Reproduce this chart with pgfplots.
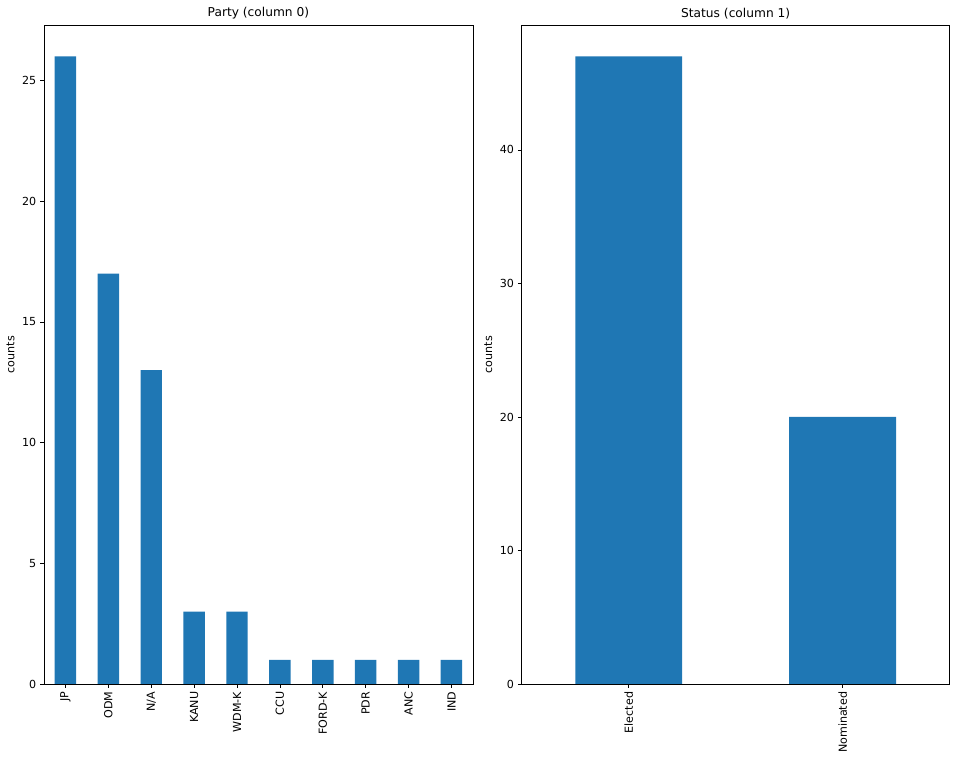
\documentclass[border=0pt]{standalone}
\usepackage{pgfplots}
\pgfplotsset{compat=1.18}
\usepackage{fontspec}
\setmainfont{DejaVu Sans}
\definecolor{mplblue}{HTML}{1F77B4}
\pgfplotsset{
  mystyle/.style={
    scale only axis,
    height=593pt,
    ymin=0,
    axis line style={black, line width=0.7pt},
    tick style={black, line width=0.7pt},
    tick align=outside,
    major tick length=3.5pt,
    xtick pos=bottom, ytick pos=left,
    xtick=data,
    x tick label style={rotate=90, anchor=east, font=\fontsize{10}{12}\selectfont},
    y tick label style={font=\fontsize{10}{12}\selectfont},
    /pgf/number format/assume math mode=true,
    title style={font=\fontsize{11}{13}\selectfont, yshift=-4pt},
    ylabel={counts},
    ylabel style={font=\fontsize{10}{12}\selectfont},
    ybar, bar width=0.5,
    enlarge x limits=false,
  }
}
\begin{document}
\begin{tikzpicture}
\path[use as bounding box] (-39.6pt,-69.3pt) rectangle (825.3pt,615.6pt);
\begin{axis}[mystyle, at={(0,0)}, anchor=south west, width=386pt,
  xmin=-0.5, xmax=9.5, ymax=27.3,
  ytick={0,5,10,15,20,25},
  xticklabels={JP,ODM,N/A,KANU,WDM-K,CCU,FORD-K,PDR,ANC,IND},
  title={Party (column 0)}]
\addplot[fill=mplblue, draw=none] coordinates {(0,26) (1,17) (2,13) (3,3) (4,3) (5,1) (6,1) (7,1) (8,1) (9,1)};
\end{axis}
\begin{axis}[mystyle, at={(430pt,0)}, anchor=south west, width=385pt,
  xmin=-0.5, xmax=1.5, ymax=49.35,
  ytick={0,10,20,30,40},
  xticklabels={Elected,Nominated},
  title={Status (column 1)}]
\addplot[fill=mplblue, draw=none] coordinates {(0,47) (1,20)};
\end{axis}
\end{tikzpicture}
\end{document}
